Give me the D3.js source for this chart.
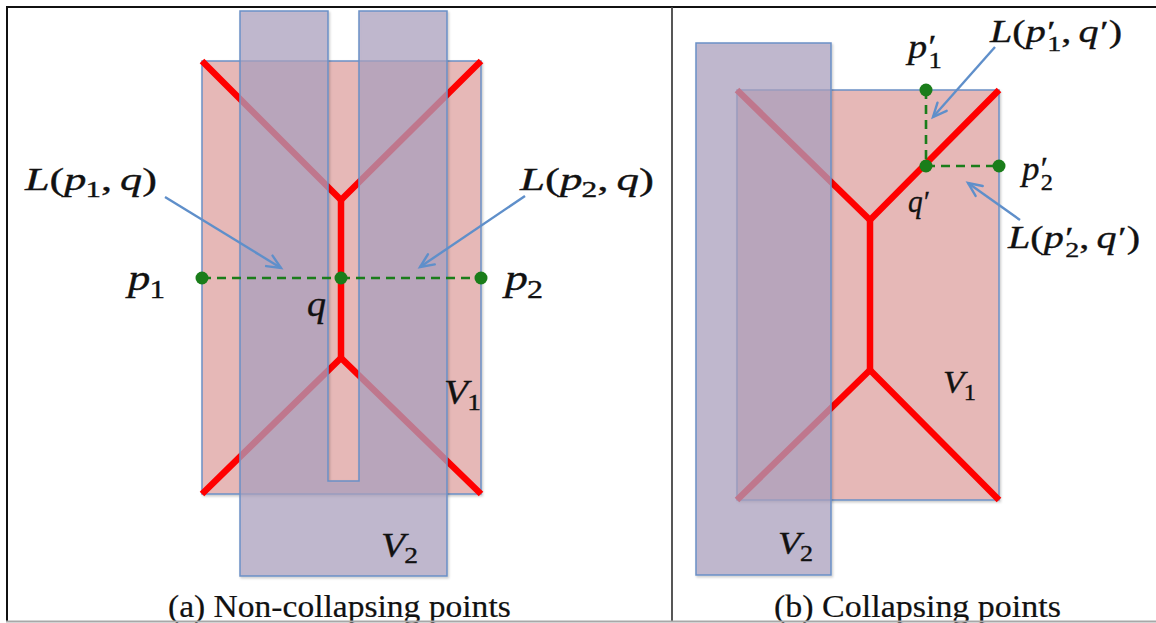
<!DOCTYPE html>
<html>
<head>
<meta charset="utf-8">
<script src="https://cdn.jsdelivr.net/npm/d3@7"></script>
<style>
  html, body { margin: 0; padding: 0; background: #fff; }
  svg { display: block; }
  text { font-family: "Liberation Serif", "Times New Roman", serif; fill: #111; }
</style>
</head>
<body>
<svg id="fig" width="1156" height="623"></svg>
<script>
// ---------------------------------------------------------------
// Geometry of both panels, in units measured from the top-left
// corner of the Voronoi cell V1 of that panel.
// ---------------------------------------------------------------

// (a) non-collapsing points
const cellV1a = [[0, 0], [279, 0], [279, 433], [0, 433]];
const cellV2a = [[38, -50], [126, -50], [126, 420], [157, 420], [157, -50], [245, -50], [245, 515], [38, 515]];
const skeletonA = [
  [[0, 0], [139, 139], [279, 0]],
  [[139, 139], [139, 297]],
  [[0, 433], [139, 297], [279, 433]]
];
const sitesA = [[0, 217], [139, 217], [279, 217]];          // p1, q, p2
const linksA = [[[0, 217], [139, 217]], [[139, 217], [279, 217]]];
const arrowsA = [[[-37, 136], [79, 207]], [[323, 135], [218, 206]]];
const labelsA = [
  { tex: "L(p_1, q)", at: [-177, 129], w: 132, size: 32 },
  { tex: "L(p_2, q)", at: [318, 129], w: 134, size: 32 },
  { tex: "p_1", at: [-74, 229], w: 37, size: 36 },
  { tex: "q", at: [105, 255], w: 19, size: 36 },
  { tex: "p_2", at: [303, 229], w: 38, size: 36 },
  { tex: "V_1", at: [242, 342], w: 37, size: 34 },
  { tex: "V_2", at: [179, 495], w: 37, size: 34 }
];

// (b) collapsing points
const cellV1b = [[0, 0], [262, 0], [262, 410], [0, 410]];
const cellV2b = [[-41, -47], [94, -47], [94, 485], [-41, 485]];
const skeletonB = [
  [[0, 0], [133, 130], [262, 0]],
  [[133, 130], [133, 280]],
  [[0, 410], [133, 280], [262, 410]]
];
const sitesB = [[189, 0], [189, 76], [262, 76]];             // p1', q', p2'
const linksB = [[[189, 0], [189, 76]], [[189, 76], [262, 76]]];
const arrowsB = [[[258, -43], [196, 27]], [[283, 130], [231, 93]]];
const labelsB = [
  { tex: "p'_1", at: [171, -32], w: 34, size: 33 },
  { tex: "L(p'_1, q')", at: [253, -48], w: 132, size: 31 },
  { tex: "p'_2", at: [285, 90], w: 31, size: 33 },
  { tex: "q'", at: [171, 122], w: 22, size: 31 },
  { tex: "L(p'_2, q')", at: [271, 158], w: 132, size: 31 },
  { tex: "V_1", at: [206, 303], w: 33, size: 32 },
  { tex: "V_2", at: [41, 464], w: 35, size: 32 }
];

const captions = ["(a) Non-collapsing points", "(b) Collapsing points"];

// ---------------------------------------------------------------
const svg = d3.select("#fig");
const W = 1156, H = 623;

const defs = svg.append("defs");
const shadow = defs.append("filter").attr("id", "soft").attr("x", "-10%").attr("y", "-10%")
  .attr("width", "130%").attr("height", "130%");
shadow.append("feDropShadow").attr("dx", 1.2).attr("dy", 1.6).attr("stdDeviation", 1.2)
  .attr("flood-color", "#000").attr("flood-opacity", 0.22);

const C = {
  v1Fill: "#e6b8b7",
  v2Fill: "rgb(174,164,194)",
  cellStroke: "#6b90c6",
  red: "#ff0000",
  green: "#1a7d1a",
  arrow: "#5f8fca"
};

function drawPanel(cfg) {
  const { ox, oy, V1, V2, skeleton, sites, links, arrows, labels, wx, hy } = cfg;
  const x = d3.scaleLinear().domain([0, wx]).range([ox, ox + wx]);
  const y = d3.scaleLinear().domain([0, hy]).range([oy, oy + hy]);
  const P = d => [x(d[0]), y(d[1])];
  const open = d3.line();
  const closed = d3.line().curve(d3.curveLinearClosed);
  const g = svg.append("g");

  // cell V1
  g.append("path").attr("d", closed(V1.map(P)))
    .attr("fill", C.v1Fill).attr("stroke", C.cellStroke).attr("stroke-width", 1.5)
    .attr("filter", "url(#soft)");

  // medial skeleton of V1
  g.selectAll(".sk").data(skeleton).join("path").attr("class", "sk")
    .attr("d", d => open(d.map(P)))
    .attr("fill", "none").attr("stroke", C.red).attr("stroke-width", 6.5)
    .attr("stroke-linejoin", "miter").attr("stroke-linecap", "butt");

  // cell V2, translucent on top
  g.append("path").attr("d", closed(V2.map(P)))
    .attr("fill", C.v2Fill).attr("fill-opacity", 0.7)
    .attr("stroke", C.cellStroke).attr("stroke-width", 1.5)
    .attr("filter", "url(#soft)");

  // geodesic links
  g.selectAll(".lk").data(links).join("path").attr("class", "lk")
    .attr("d", d => open(d.map(P)))
    .attr("fill", "none").attr("stroke", C.green).attr("stroke-width", 2.6)
    .attr("stroke-dasharray", "9,6");

  g.selectAll(".site").data(sites).join("circle").attr("class", "site")
    .attr("cx", d => x(d[0])).attr("cy", d => y(d[1])).attr("r", 6.5)
    .attr("fill", C.green);

  // pointer arrows
  arrows.forEach(a => {
    const [s, t] = a.map(P);
    const ang = Math.atan2(t[1] - s[1], t[0] - s[0]);
    const L = 15, spread = 0.42;
    const w1 = [t[0] - L * Math.cos(ang - spread), t[1] - L * Math.sin(ang - spread)];
    const w2 = [t[0] - L * Math.cos(ang + spread), t[1] - L * Math.sin(ang + spread)];
    g.append("path").attr("d", open([s, t]))
      .attr("stroke", C.arrow).attr("stroke-width", 2.4).attr("fill", "none");
    g.append("path").attr("d", open([w1, t, w2]))
      .attr("stroke", C.arrow).attr("stroke-width", 2.4).attr("fill", "none")
      .attr("stroke-linejoin", "miter").attr("stroke-linecap", "round");
  });

  labels.forEach(l => mathLabel(g, l, x(l.at[0]), y(l.at[1])));
}

// Small typesetter: italic letters, upright digits/punctuation,
// subscripts (_x) and primes ('), with a prime stacked over a subscript.
// Each formula becomes one <text> made of positioned tspans.
function mathLabel(parent, spec, px, py) {
  const size = spec.size;
  const meas = parent.append("text").attr("visibility", "hidden");
  const adv = (txt, fs, italic) => {
    meas.attr("font-size", fs).attr("font-style", italic ? "italic" : "normal").text(txt);
    return meas.node().getComputedTextLength();
  };
  const pieces = [];
  let cx = 0, primeAt = null;
  const tex = spec.tex;
  for (let i = 0; i < tex.length; i++) {
    const c = tex[i];
    if (c === "_") {
      const s = tex[++i];
      const x0 = primeAt !== null ? primeAt : cx - 0.02 * size;
      const fs = size * 0.7;
      pieces.push({ t: s, x: x0, y: (primeAt !== null ? 0.3 : 0.22) * size, fs, it: false });
      cx = Math.max(cx, x0 + adv(s, fs, false));
      primeAt = null;
    } else if (c === "'") {
      primeAt = cx + 0.04 * size;
      const fs = size * 0.95;
      pieces.push({ t: "\u2032", x: primeAt, y: -0.02 * size, fs, it: false });
      cx = primeAt + adv("\u2032", fs, false);
    } else if (c === " ") {
      cx += 0.18 * size; primeAt = null;
    } else {
      const it = /[A-Za-z]/.test(c);
      pieces.push({ t: c, x: cx, y: 0, fs: size, it });
      cx += adv(c, size, it);
      primeAt = null;
    }
  }
  meas.remove();
  const sx = spec.w / cx;
  const t = parent.append("text")
    .attr("transform", `translate(${px},${py}) scale(${sx},1)`)
    .attr("stroke", "#111").attr("stroke-width", 0.35);
  t.selectAll("tspan").data(pieces).join("tspan")
    .attr("x", d => d.x).attr("y", d => d.y)
    .attr("font-size", d => d.fs)
    .attr("font-style", d => d.it ? "italic" : "normal")
    .text(d => d.t);
}

drawPanel({ ox: 202, oy: 61, wx: 279, hy: 433, V1: cellV1a, V2: cellV2a, skeleton: skeletonA,
  sites: sitesA, links: linksA, arrows: arrowsA, labels: labelsA });
drawPanel({ ox: 737, oy: 90, wx: 262, hy: 410, V1: cellV1b, V2: cellV2b, skeleton: skeletonB,
  sites: sitesB, links: linksB, arrows: arrowsB, labels: labelsB });

// captions
const capSpec = [{ cx: 339.5, w: 343 }, { cx: 917.5, w: 287 }];
captions.forEach((txt, i) => {
  const t = svg.append("text").attr("font-size", 32).attr("y", 617)
    .attr("stroke", "#111").attr("stroke-width", 0.2).text(txt);
  const w = t.node().getComputedTextLength();
  const s = capSpec[i].w / w;
  t.attr("x", 0).attr("transform", `translate(${capSpec[i].cx - capSpec[i].w / 2},0) scale(${s},1)`);
});

// table frame
const frame = svg.append("g").attr("fill", "none");
frame.append("line").attr("x1", 6).attr("x2", W).attr("y1", 7).attr("y2", 7)
  .attr("stroke", "#111").attr("stroke-width", 1.8);
frame.append("line").attr("x1", 7).attr("x2", 7).attr("y1", 6).attr("y2", 621)
  .attr("stroke", "#111").attr("stroke-width", 2);
frame.append("line").attr("x1", 672).attr("x2", 672).attr("y1", 7).attr("y2", 621)
  .attr("stroke", "#444").attr("stroke-width", 1.8);
frame.append("line").attr("x1", 6).attr("x2", W).attr("y1", 621.5).attr("y2", 621.5)
  .attr("stroke", "#a8a8a8").attr("stroke-width", 2);
</script>
</body>
</html>
